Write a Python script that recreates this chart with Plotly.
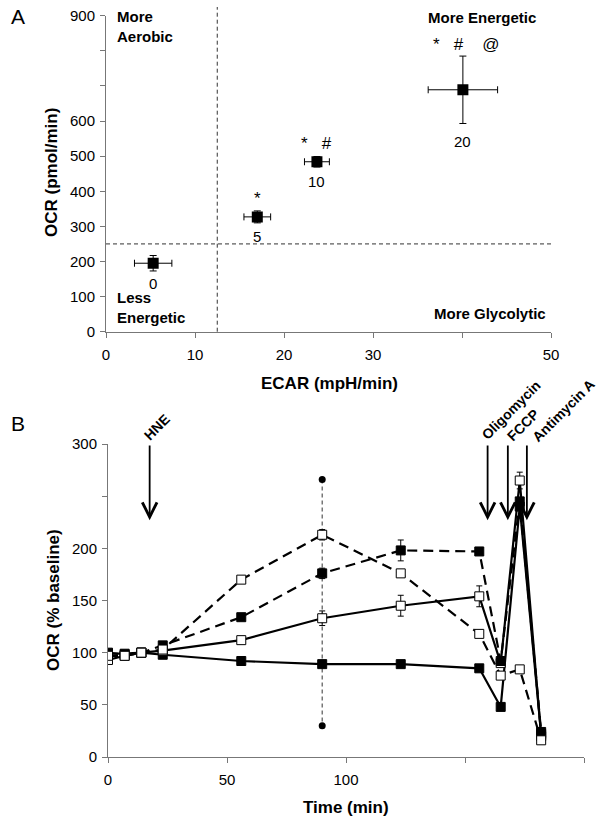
import plotly.graph_objects as go

# ---- panel A: energy map (ECAR vs OCR) ----
ecar = [5.3, 17.0, 23.7, 40.1]
ecar_err = [2.1, 1.5, 1.4, 3.9]
ocr = [195, 327, 484, 689]
ocr_err = [22, 17, 15, 96]
dose_labels = ["0", "5", "10", "20"]
sig_marks = ["", "*", "*   #", "*   #    @"]

a_xticks = [0, 10, 20, 30, 40, 50]
a_xtext = ["0", "10", "20", "30", "", "50"]
a_yticks = [0, 100, 200, 300, 400, 500, 600, 700, 800, 900]
a_ytext = ["0", "100", "200", "300", "400", "500", "600", "", "", "900"]

# ---- panel B: OCR time course ----
time = [0, 7, 14, 23, 56, 90, 123, 156, 165, 173, 182]
ocr_solid_filled = [99, 99, 100, 98, 92, 89, 89, 85, 48, 240, 22]
ocr_solid_open = [93, 97, 100, 102, 112, 133, 145, 154, 90, 265, 20]
ocr_dash_filled = [100, 98, 100, 107, 134, 176, 198, 197, 92, 245, 24]
ocr_dash_open = [97, 97, 100, 103, 170, 213, 176, 118, 78, 84, 16]
err_solid_filled = [0, 0, 0, 3, 0, 0, 0, 0, 0, 0, 0]
err_solid_open = [0, 0, 0, 0, 0, 7, 10, 10, 0, 8, 0]
err_dash_filled = [0, 0, 0, 0, 0, 5, 10, 0, 0, 0, 0]
err_dash_open = [0, 0, 0, 0, 0, 5, 0, 0, 0, 0, 0]
range_t = [90, 90]
range_ocr = [266, 30]

b_xticks = [0, 50, 100, 150, 200]
b_xtext = ["0", "50", "100", "", ""]
b_yticks = [0, 50, 100, 150, 200, 250, 300]
b_ytext = ["0", "50", "100", "150", "200", "", "300"]

injections = ["HNE", "Oligomycin", "FCCP", "Antimycin A"]
inject_t = [17.5, 159.5, 168, 176]

W, H = 603, 820
FONT = "Liberation Sans, Arial, sans-serif"


def px(x):
    return x / W


def py(y):
    return 1 - y / H


fig = go.Figure()

fig.add_trace(go.Scatter(
    x=ecar, y=ocr, mode="markers", xaxis="x", yaxis="y",
    marker=dict(symbol="square", size=11, color="black"),
    error_x=dict(type="data", array=ecar_err, color="black", thickness=1, width=3.5),
    error_y=dict(type="data", array=ocr_err, color="black", thickness=1, width=3.5),
    showlegend=False))

fig.add_trace(go.Scatter(
    x=range_t, y=range_ocr, mode="lines+markers", xaxis="x2", yaxis="y2",
    line=dict(color="#555555", width=1.2, dash="4px,3px"),
    marker=dict(symbol="circle", size=7, color="black"),
    showlegend=False))

series = [
    (ocr_solid_filled, err_solid_filled, "solid", "black"),
    (ocr_solid_open, err_solid_open, "solid", "white"),
    (ocr_dash_filled, err_dash_filled, "10px,6px", "black"),
    (ocr_dash_open, err_dash_open, "10px,6px", "white"),
]
for vals, errs, dash, fill in series:
    fig.add_trace(go.Scatter(
        x=time, y=vals, mode="lines+markers", xaxis="x2", yaxis="y2",
        line=dict(color="black", width=2.2, dash=dash),
        marker=dict(symbol="square", size=9, color=fill,
                    line=dict(color="black", width=1)),
        error_y=dict(type="data", array=errs, color="black", thickness=1, width=3),
        showlegend=False))

axis_common = dict(showline=True, linecolor="#777777", linewidth=1, ticks="outside",
                   ticklen=5, tickcolor="#777777", showgrid=False, zeroline=False,
                   tickfont=dict(size=15, color="black", family=FONT),
                   fixedrange=True, tickmode="array", automargin=False)

fig.update_layout(
    width=W, height=H, margin=dict(l=0, r=0, t=0, b=0, autoexpand=False),
    paper_bgcolor="white", plot_bgcolor="white",
    font=dict(family=FONT, color="black"),
    xaxis=dict(axis_common, domain=[px(106), px(551)], range=[0, 50],
               tickvals=a_xticks, ticktext=a_xtext, anchor="y", ticklabelstandoff=4),
    yaxis=dict(axis_common, domain=[py(331.7), py(15.7)], range=[0, 900],
               tickvals=a_yticks, ticktext=a_ytext, anchor="x", ticklabelstandoff=2),
    xaxis2=dict(axis_common, domain=[px(108), px(584)], range=[0, 200],
                tickvals=b_xticks, ticktext=b_xtext, anchor="y2", ticklabelstandoff=4),
    yaxis2=dict(axis_common, domain=[py(757), py(444)], range=[0, 300],
                tickvals=b_yticks, ticktext=b_ytext, anchor="x2", ticklabelstandoff=2),
)

# quadrant dividers in panel A
fig.add_shape(type="line", xref="x", yref="y", x0=0, x1=50.5, y0=250, y1=250,
              line=dict(color="#333333", width=1, dash="4px,3px"))
fig.add_shape(type="line", xref="x", yref="paper", x0=12.5, x1=12.5,
              y0=py(331.7), y1=py(7), line=dict(color="#333333", width=1, dash="4px,3px"))

ann = []


def text(x, y, s, size=15, bold=False, xanchor="center", yanchor="middle", angle=0, align="center"):
    ann.append(dict(x=px(x), y=py(y), xref="paper", yref="paper", showarrow=False,
                    text=f"<b>{s}</b>" if bold else s, textangle=angle,
                    font=dict(size=size, color="black", family=FONT),
                    xanchor=xanchor, yanchor=yanchor, align=align))


text(18, 16, "A", size=21)
text(18, 423, "B", size=21)
text(115, 26, "More<br>Aerobic", bold=True, xanchor="left", align="left")
text(115, 307, "Less<br>Energetic", bold=True, xanchor="left", align="left")
text(482, 17, "More Energetic", bold=True)
text(490, 313, "More Glycolytic", bold=True)
text(52, 173, "OCR (pmol/min)", size=17, bold=True, angle=-90)
text(329, 383, "ECAR (mpH/min)", size=17, bold=True)
text(53, 600, "OCR (% baseline)", size=17, bold=True, angle=-90)
text(346, 807, "Time (min)", size=17, bold=True)

# dose labels below, significance marks above each point (data coords)
label_off = [57, 57, 57, 147]
sig_off = [0, 52, 52, 128]
for xv, yv, lab, sig, lo, so in zip(ecar, ocr, dose_labels, sig_marks, label_off, sig_off):
    ann.append(dict(x=xv, y=yv - lo, xref="x", yref="y", showarrow=False,
                    text=lab, font=dict(size=15, color="black", family=FONT)))
    if sig:
        ann.append(dict(x=xv + (0.4 if "@" in sig else 0), y=yv + so,
                        xref="x", yref="y", showarrow=False,
                        text=sig, font=dict(size=17, color="black", family=FONT)))

# injection arrows in panel B
label_pos = [(157, 427), (511, 410), (523, 425), (563, 411)]
for name, t, (lx, ly) in zip(injections, inject_t, label_pos):
    ann.append(dict(x=t, y=227, ax=t, ay=300, xref="x2", yref="y2", axref="x2", ayref="y2",
                    showarrow=True, arrowhead=5, arrowsize=1.6, arrowwidth=1.8,
                    arrowcolor="black", text=""))
    text(lx, ly, name, size=14, bold=True, angle=-45)

fig.update_layout(annotations=ann)

# page body has a default 8px margin; drop it so the figure fills the window
fig.write_html("out.html", config={"displayModeBar": False},
               post_script="document.body.style.margin='0';")
